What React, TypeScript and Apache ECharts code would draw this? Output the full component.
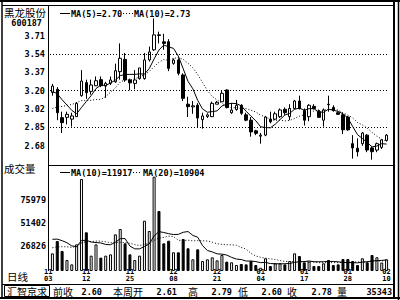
import { useEffect, useRef } from "react";
import * as echarts from "echarts";

// ---- data ----
const dateTickIndex = [0, 7, 16, 25, 34, 43, 52, 61, 69];
const dateTickLabels = ["11\n03", "11\n12", "11\n25", "12\n08", "12\n21", "01\n04", "01\n17", "01\n28", "02\n10"];

const opens = [
  3.18, 3.21, 2.944, 2.947, 2.93, 2.953, 3.15, 3.272, 3.19, 3.243,
  3.3, 3.24, 3.266, 3.28, 3.375, 3.49, 3.297, 3.265, 3.31, 3.31,
  3.485, 3.58, 3.72, 3.655, 3.656, 3.453, 3.484, 3.344, 3.07, 3.045,
  3.06, 2.925, 2.955, 2.953, 3.07, 3.093, 3.203, 2.99, 3.02, 3.06,
  2.97, 2.92, 2.82, 2.77, 2.78, 2.93, 2.93, 2.953, 3.022, 2.953,
  3.03, 3.1, 3.01, 2.953, 3.05, 3.0, 2.92, 3.07, 3.04, 2.99,
  2.97, 2.95, 2.7, 2.657, 2.7, 2.78, 2.66, 2.64, 2.665, 2.73,
];
const closes = [
  3.24, 2.99, 2.897, 2.975, 2.96, 3.078, 3.287, 3.178, 3.25, 3.29,
  3.243, 3.265, 3.297, 3.384, 3.5, 3.297, 3.27, 3.297, 3.41, 3.485,
  3.56, 3.72, 3.715, 3.64, 3.406, 3.484, 3.36, 3.125, 3.047, 3.055,
  2.94, 2.96, 2.97, 3.078, 3.088, 3.172, 3.04, 3.015, 3.06, 2.985,
  2.92, 2.81, 2.797, 2.78, 2.95, 2.905, 2.98, 3.016, 2.99, 3.03,
  3.1, 3.03, 2.92, 3.06, 3.03, 2.947, 3.016, 3.065, 3.01, 2.975,
  2.83, 2.83, 2.66, 2.625, 2.8, 2.64, 2.625, 2.7, 2.735, 2.78,
];
const lows = [
  3.15, 2.92, 2.8, 2.88, 2.86, 2.95, 3.14, 3.12, 3.16, 3.24,
  3.23, 3.13, 3.25, 3.27, 3.3, 3.28, 3.2, 3.21, 3.3, 3.3,
  3.47, 3.57, 3.64, 3.58, 3.38, 3.44, 3.34, 3.1, 2.95, 2.98,
  2.85, 2.84, 2.94, 2.95, 3.07, 3.09, 3.03, 2.98, 3.01, 2.97,
  2.91, 2.765, 2.78, 2.7, 2.77, 2.89, 2.92, 2.94, 2.97, 2.92,
  3.02, 3.02, 2.87, 2.91, 3.02, 2.94, 2.86, 3.0, 3.0, 2.97,
  2.79, 2.82, 2.56, 2.58, 2.68, 2.62, 2.55, 2.62, 2.65, 2.72,
];
const highs = [
  3.26, 3.23, 3.0, 3.0, 2.99, 3.09, 3.39, 3.3, 3.3, 3.33,
  3.33, 3.28, 3.33, 3.45, 3.64, 3.55, 3.31, 3.39, 3.41, 3.55,
  3.61, 3.875, 3.75, 3.73, 3.68, 3.5, 3.5, 3.36, 3.14, 3.1,
  3.08, 2.99, 2.985, 3.094, 3.1, 3.197, 3.21, 3.08, 3.11, 3.07,
  2.99, 2.95, 2.83, 2.8, 2.96, 3.0, 3.0, 3.03, 3.04, 3.07,
  3.11, 3.15, 3.03, 3.07, 3.07, 3.02, 3.03, 3.15, 3.06, 3.0,
  2.99, 2.96, 2.78, 2.75, 2.81, 2.79, 2.67, 2.71, 2.74, 2.79,
];
const volumes = [
  18900, 32100, 21400, 11800, 7100, 28500, 98400, 41400, 16400, 28500,
  14300, 16400, 17800, 39200, 44900, 29600, 17800, 11800, 16400, 53800,
  42800, 100900, 64200, 29600, 32400, 20000, 20000, 34200, 24300, 12500,
  23200, 10700, 12500, 14600, 11400, 17100, 10000, 9300, 6400, 7500,
  7100, 10700, 6400, 3500, 13600, 5300, 8200, 8200, 7100, 10700,
  18900, 16000, 9300, 10000, 5300, 5300, 8200, 11800, 6400, 7100,
  12800, 12800, 10700, 6400, 13600, 9300, 17100, 14700, 9000, 12500,
];
// estimated values before the visible window, only used to seed the moving averages
const preCloses = [2.84, 2.86, 2.88, 2.87, 2.9, 3.1, 3.18, 3.22, 3.21];
const preVolumes = [
  14000, 17000, 15500, 16800, 13900, 18200, 15000, 16400, 15200, 17000,
  30000, 38000, 34000, 41000, 36000, 33000, 39000, 35000, 34100,
];

const priceTicks = [2.68, 2.852, 3.024, 3.196, 3.368, 3.54, 3.712];
const priceGridLines = [2.852, 3.196, 3.54];
const volumeTicks = [26826, 51402, 75979];

const stockName = "黑龙股份";
const stockCode = "600187";
const priceLegend = ["MA(5)=2.70", "MA(10)=2.73"];
const volumeLegend = ["MA(10)=11917", "MA(20)=10904"];
const statusLabels = ["前收", "本周开", "高", "低", "收", "量"];
const statusValues = ["2.60", "2.61", "2.79", "2.60", "2.78", "35343"];

function movingAverage(seed: number[], values: number[], n: number): number[] {
  const all = seed.concat(values);
  const off = seed.length;
  return values.map((_, i) => {
    let s = 0;
    for (let k = 0; k < n; k++) s += all[off + i - k];
    return s / n;
  });
}

const MONO = '"DejaVu Sans Mono", monospace';
const CJK = '"Noto Sans CJK SC", sans-serif';

function txt(text: string, x: number, y: number, font: string, align = "left") {
  return {
    type: "text",
    x,
    y,
    z: 100,
    silent: true,
    style: { text, font, fill: "#000", align, textAlign: align, verticalAlign: "middle", textVerticalAlign: "middle" },
  };
}
function ln(x1: number, y1: number, x2: number, y2: number, w = 1, dash?: number[]) {
  return {
    type: "line",
    z: 100,
    silent: true,
    shape: { x1, y1, x2, y2 },
    style: { stroke: "#000", lineWidth: w, lineDash: dash },
  };
}

export default function App() {
  const ref = useRef<HTMLDivElement>(null);
  useEffect(() => {
    if (!ref.current) return;
    const chart = echarts.init(ref.current, null, { renderer: "svg" });
    const cats = closes.map((_, i) => String(i));
    const candleData = opens.map((o, i) => [o, closes[i], lows[i], highs[i]]);
    const ma5 = movingAverage(preCloses.slice(-4), closes, 5);
    const ma10 = movingAverage(preCloses, closes, 10);
    const vma10 = movingAverage(preVolumes.slice(-9), volumes, 10);
    const vma20 = movingAverage(preVolumes, volumes, 20);
    const numFont = `bold 8.5px ${MONO}`;
    const cjkFont = `10.5px ${CJK}`;
    const statusFont = `10px ${CJK}`;

    const statusX = [53, 113, 188, 238, 287, 337];
    const statusValX = [102, 177, 232, 282, 332, 392];

    const graphics: any[] = [
      // frame
      ln(0, 1, 400, 1, 2),
      ln(2, 5.5, 394, 5.5, 1),
      ln(2, 0, 2, 298, 1.5),
      ln(394, 0, 394, 298, 2),
      ln(398.5, 0, 398.5, 300, 1.5),
      ln(0, 298, 400, 298, 2),
      ln(48.5, 5, 48.5, 271, 1),
      ln(48, 165.5, 394, 165.5, 1),
      ln(2, 284.5, 394, 284.5, 1),
      {
        type: "rect",
        z: 100,
        silent: true,
        shape: { x: 4.5, y: 285.5, width: 45, height: 11 },
        style: { fill: "none", stroke: "#000", lineWidth: 1 },
      },
      // titles
      txt(stockName, 4, 12, cjkFont),
      txt(stockCode, 42, 23, numFont, "right"),
      txt("成交量", 4, 168.5, cjkFont),
      txt("日线", 7, 276, cjkFont),
      txt("汇智京求", 7, 291.5, statusFont),
      // price legend
      ln(60, 13.5, 70, 13.5, 1),
      txt(priceLegend[0], 71, 13.5, numFont),
      ln(123, 13.5, 133, 13.5, 1, [1, 2]),
      txt(priceLegend[1], 134, 13.5, numFont),
      // volume legend
      ln(60, 172.5, 70, 172.5, 1),
      txt(volumeLegend[0], 71, 172.5, numFont),
      ln(133, 172.5, 142, 172.5, 1, [1, 2]),
      txt(volumeLegend[1], 143, 172.5, numFont),
    ];
    statusLabels.forEach((s, i) => graphics.push(txt(s, statusX[i], 291.5, statusFont)));
    statusValues.forEach((s, i) => graphics.push(txt(s, statusValX[i], 291.5, numFont, "right")));

    const axisLabelBase = { fontFamily: MONO, fontWeight: "bold", fontSize: 8.5, color: "#000" };

    chart.setOption({
      animation: false,
      backgroundColor: "#fff",
      grid: [
        { left: 50, right: 11, top: 5, height: 160, outerBoundsMode: "none" },
        { left: 50, right: 11, top: 165, height: 106, outerBoundsMode: "none" },
      ],
      xAxis: [
        {
          type: "category",
          gridIndex: 0,
          data: cats,
          boundaryGap: true,
          axisLine: { show: false },
          axisTick: { show: false },
          axisLabel: { show: false },
          splitLine: { show: false },
        },
        {
          type: "category",
          gridIndex: 1,
          data: cats,
          boundaryGap: true,
          axisLine: { show: false },
          axisTick: { show: false },
          splitLine: { show: false },
          axisLabel: {
            interval: (i: number) => dateTickIndex.includes(i),
            formatter: (v: string) => {
              const k = dateTickIndex.indexOf(Number(v));
              return k >= 0 ? dateTickLabels[k] : "";
            },
            fontFamily: MONO,
            fontWeight: "bold",
            fontSize: 7,
            lineHeight: 6.5,
            color: "#000",
            margin: -2,
            alignMinLabel: "right",
          },
        },
      ],
      yAxis: [
        {
          type: "value",
          gridIndex: 0,
          min: 2.5,
          max: 4.0,
          axisLine: { show: false },
          axisTick: { show: false },
          splitLine: { show: false },
          axisLabel: {
            ...axisLabelBase,
            customValues: priceTicks,
            formatter: (v: number) => v.toFixed(2),
            margin: 5,
          },
        },
        {
          type: "value",
          gridIndex: 1,
          min: 0,
          max: 113400,
          axisLine: { show: false },
          axisTick: { show: false },
          splitLine: { show: false },
          axisLabel: {
            ...axisLabelBase,
            customValues: volumeTicks,
            formatter: (v: number) => String(Math.round(v)),
            margin: 4,
          },
        },
      ],
      series: [
        {
          type: "candlestick",
          xAxisIndex: 0,
          yAxisIndex: 0,
          data: candleData,
          barWidth: 3,
          itemStyle: {
            color: "#fff",
            color0: "#000",
            borderColor: "#000",
            borderColor0: "#000",
            borderColorDoji: "#000",
            borderWidth: 1,
          },
          markLine: {
            silent: true,
            symbol: ["none", "none"],
            label: { show: false },
            lineStyle: { color: "#000", type: [1, 2], width: 1 },
            data: priceGridLines.map((v) => ({ yAxis: v })),
          },
        },
        {
          type: "line",
          xAxisIndex: 0,
          yAxisIndex: 0,
          data: ma5,
          symbol: "none",
          lineStyle: { color: "#000", width: 1 },
        },
        {
          type: "line",
          xAxisIndex: 0,
          yAxisIndex: 0,
          data: ma10,
          symbol: "none",
          lineStyle: { color: "#000", width: 1, type: [1, 2] },
        },
        {
          type: "bar",
          xAxisIndex: 1,
          yAxisIndex: 1,
          barWidth: 3,
          data: volumes.map((v, i) => ({
            value: v,
            itemStyle: { color: closes[i] >= opens[i] ? "#fff" : "#000" },
          })),
          itemStyle: { borderColor: "#000", borderWidth: 1 },
        },
        {
          type: "line",
          xAxisIndex: 1,
          yAxisIndex: 1,
          data: vma10,
          symbol: "none",
          lineStyle: { color: "#000", width: 1 },
        },
        {
          type: "line",
          xAxisIndex: 1,
          yAxisIndex: 1,
          data: vma20,
          symbol: "none",
          lineStyle: { color: "#000", width: 1, type: [1, 2] },
        },
      ],
      graphic: { elements: graphics },
    });
    return () => chart.dispose();
  }, []);
  return <div ref={ref} style={{ position: "absolute", left: 0, top: 0, width: 400, height: 300 }} />;
}
